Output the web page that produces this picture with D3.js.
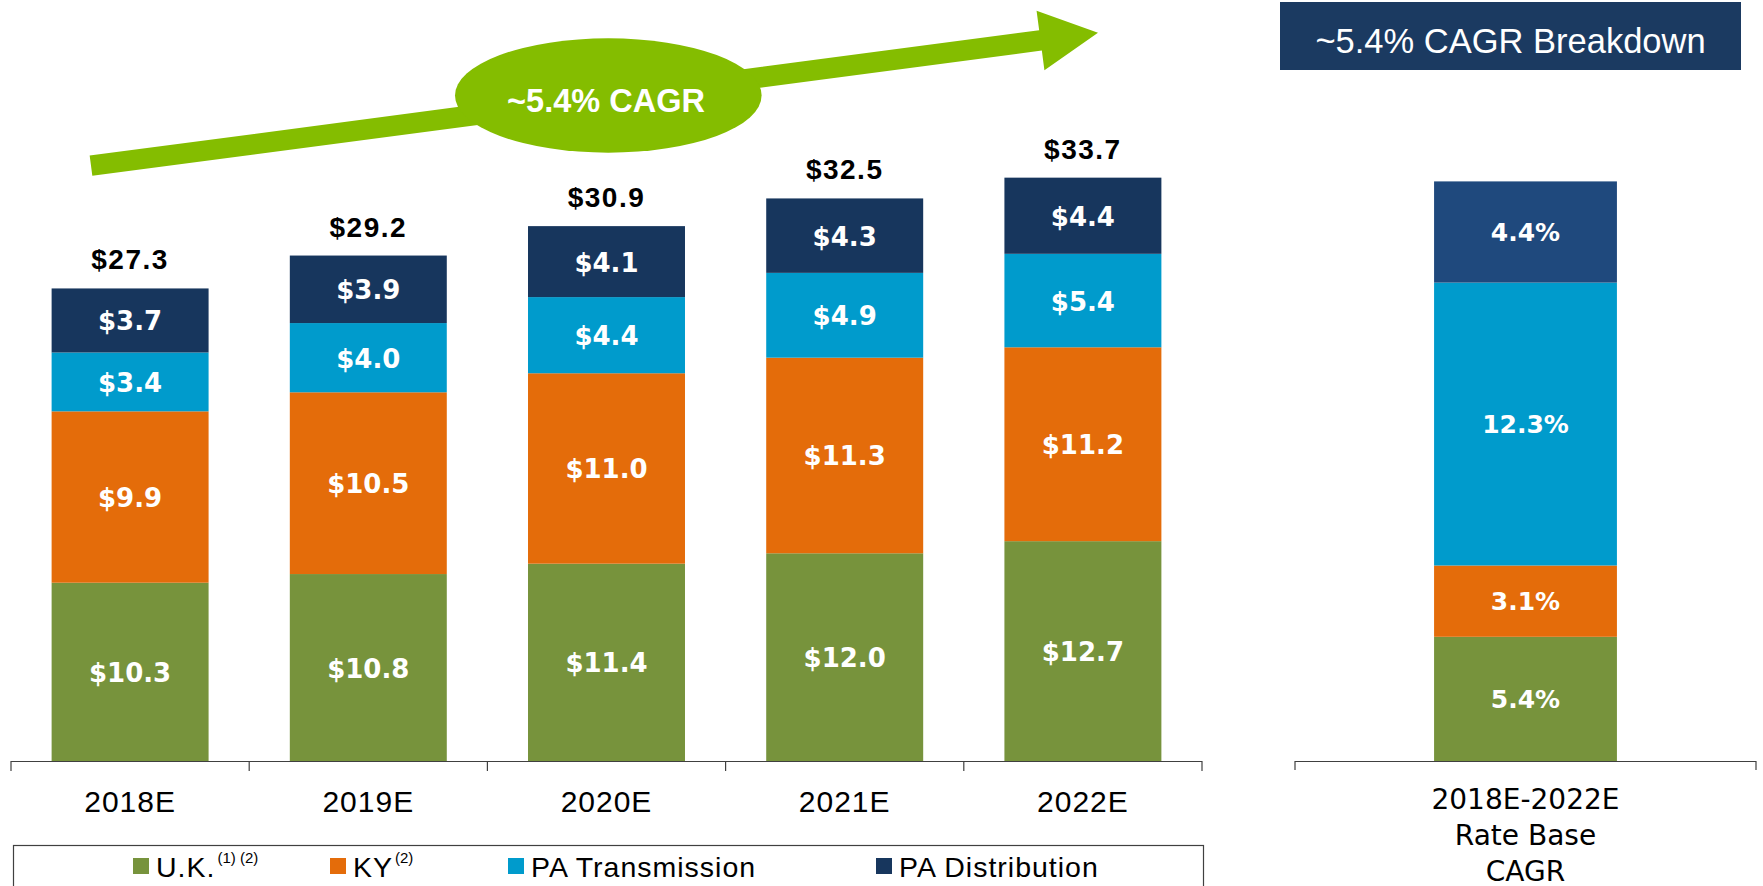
<!DOCTYPE html>
<html>
<head>
<meta charset="utf-8">
<script src="https://cdn.jsdelivr.net/npm/d3@7"></script>
<style>
  body { margin: 0; background: #fff; }
  svg { display: block; }
</style>
</head>
<body>
<svg id="chart" width="1763" height="886"></svg>
<script>
// data
var years = ["2018E", "2019E", "2020E", "2021E", "2022E"];
var uk = [10.3, 10.8, 11.4, 12.0, 12.7];
var ky = [9.9, 10.5, 11.0, 11.3, 11.2];
var paTrans = [3.4, 4.0, 4.4, 4.9, 5.4];
var paDist = [3.7, 3.9, 4.1, 4.3, 4.4];
var totals = [27.3, 29.2, 30.9, 32.5, 33.7];
var cagrCategory = ["2018E-2022E"];
var cagrValues = [5.4, 3.1, 12.3, 4.4];   // U.K., KY, PA Trans, PA Dist
var seriesNames = ["U.K.", "KY", "PA Transmission", "PA Distribution"];
var seriesSup = ["(1) (2)", "(2)", "", ""];
var colors = ["#77933c", "#e46c0a", "#009bcc", "#17365d"];
var cagrColors = ["#77933c", "#e46c0a", "#009bcc", "#1f497d"];

var svg = d3.select("#chart");
var baseY = 761;

// left panel scales
var x = d3.scaleBand()
    .domain(years)
    .range([11, 1202])
    .paddingInner(0.341)
    .paddingOuter(0.1705);

var y = d3.scaleLinear()
    .domain([0, 40])
    .range([baseY, baseY - 17.31 * 40]);

// stack
var rows = years.map(function(yr, i) {
  return { year: yr, "U.K.": uk[i], "KY": ky[i], "PA Transmission": paTrans[i], "PA Distribution": paDist[i] };
});
var stacked = d3.stack().keys(seriesNames)(rows);

var layers = svg.selectAll(".layer")
    .data(stacked)
  .enter().append("g")
    .attr("class", "layer")
    .style("fill", function(d, i) { return colors[i]; });

layers.selectAll("rect")
    .data(function(d) { return d; })
  .enter().append("rect")
    .attr("x", function(d) { return x(d.data.year); })
    .attr("width", x.bandwidth())
    .attr("y", function(d) { return y(d[1]); })
    .attr("height", function(d) { return y(d[0]) - y(d[1]); });

layers.selectAll("text")
    .data(function(d) { return d; })
  .enter().append("text")
    .attr("x", function(d) { return x(d.data.year) + x.bandwidth() / 2; })
    .attr("y", function(d) { return (y(d[0]) + y(d[1])) / 2 + 10; })
    .attr("text-anchor", "middle")
    .style("font-family", "DejaVu Sans")
    .style("font-weight", "bold")
    .style("font-size", "26px")
    .style("fill", "#fff")
    .text(function(d) { return "$" + (d[1] - d[0]).toFixed(1); });

// totals
svg.selectAll(".total")
    .data(totals)
  .enter().append("text")
    .attr("class", "total")
    .attr("x", function(d, i) { return x(years[i]) + x.bandwidth() / 2; })
    .attr("y", function(d) { return y(d) - 19; })
    .attr("text-anchor", "middle")
    .style("font-family", "Liberation Sans, Arial")
    .style("font-weight", "bold")
    .style("font-size", "28px")
    .style("letter-spacing", "1.5px")
    .style("fill", "#000")
    .text(function(d) { return "$" + d.toFixed(1); });

// left axis
var axisG = svg.append("g").attr("stroke", "#404040").attr("stroke-width", 1.2);
axisG.append("line")
    .attr("x1", x.range()[0]).attr("x2", x.range()[1])
    .attr("y1", baseY + 0.5).attr("y2", baseY + 0.5);
var bounds = years.map(function(d) { return x(d) - x.step() * x.paddingInner() / 2; });
bounds.push(x.range()[1]);
bounds[0] = x.range()[0];
axisG.selectAll(".tk")
    .data(bounds)
  .enter().append("line")
    .attr("x1", function(d) { return d; }).attr("x2", function(d) { return d; })
    .attr("y1", baseY).attr("y2", baseY + 10);

svg.selectAll(".cat")
    .data(years)
  .enter().append("text")
    .attr("x", function(d) { return x(d) + x.bandwidth() / 2; })
    .attr("y", 812)
    .attr("text-anchor", "middle")
    .style("font-family", "Liberation Sans, Arial")
    .style("font-size", "30px")
    .style("letter-spacing", "1px")
    .style("fill", "#000")
    .text(function(d) { return d; });

// right panel
var x2 = d3.scaleBand()
    .domain(cagrCategory)
    .range([1295, 1756])
    .paddingInner(0.432)
    .paddingOuter(0.432);

var y2 = d3.scaleLinear()
    .domain([0, 25.2])
    .range([baseY, baseY - 23.0 * 25.2]);

var cagrStack = [];
var acc = 0;
cagrValues.forEach(function(v, i) {
  cagrStack.push({ y0: acc, y1: acc + v, v: v, c: cagrColors[i] });
  acc += v;
});

svg.selectAll(".cagr")
    .data(cagrStack)
  .enter().append("rect")
    .attr("x", x2(cagrCategory[0]))
    .attr("width", x2.bandwidth())
    .attr("y", function(d) { return y2(d.y1); })
    .attr("height", function(d) { return y2(d.y0) - y2(d.y1); })
    .style("fill", function(d) { return d.c; });

svg.selectAll(".cagrLbl")
    .data(cagrStack)
  .enter().append("text")
    .attr("x", x2(cagrCategory[0]) + x2.bandwidth() / 2)
    .attr("y", function(d) { return (y2(d.y0) + y2(d.y1)) / 2 + 9; })
    .attr("text-anchor", "middle")
    .style("font-family", "DejaVu Sans")
    .style("font-weight", "bold")
    .style("font-size", "25px")
    .style("fill", "#fff")
    .text(function(d) { return d.v.toFixed(1) + "%"; });

var axis2 = svg.append("g").attr("stroke", "#404040").attr("stroke-width", 1.2);
axis2.append("line")
    .attr("x1", x2.range()[0]).attr("x2", x2.range()[1])
    .attr("y1", baseY + 0.5).attr("y2", baseY + 0.5);
axis2.selectAll(".tk")
    .data(x2.range())
  .enter().append("line")
    .attr("x1", function(d) { return d; }).attr("x2", function(d) { return d; })
    .attr("y1", baseY).attr("y2", baseY + 9);

var catLines = [cagrCategory[0], "Rate Base", "CAGR"];
svg.append("text")
    .attr("text-anchor", "middle")
    .style("font-family", "DejaVu Sans")
    .style("font-size", "28px")
    .style("fill", "#000")
  .selectAll("tspan")
    .data(catLines)
  .enter().append("tspan")
    .attr("x", x2(cagrCategory[0]) + x2.bandwidth() / 2)
    .attr("y", function(d, i) { return 809 + i * 36; })
    .text(function(d) { return d; });

// title box
svg.append("rect")
    .attr("x", 1280).attr("y", 2)
    .attr("width", 461).attr("height", 68)
    .style("fill", "#1b3a61");
svg.append("text")
    .attr("x", 1510.5).attr("y", 53)
    .attr("text-anchor", "middle")
    .style("font-family", "Liberation Sans, Arial")
    .style("font-size", "34.5px")
    .style("fill", "#fff")
    .text("~5.4% CAGR Breakdown");

// growth arrow
var tail = [91, 165.7], tip = [1098, 32.8];
var dx = tip[0] - tail[0], dy = tip[1] - tail[1];
var len = Math.sqrt(dx * dx + dy * dy);
var ux = dx / len, uy = dy / len, nx = -uy, ny = ux;
var hw = 10.2, headLen = 58, headHw = 30;
var hb = [tip[0] - ux * headLen, tip[1] - uy * headLen];
var pts = [
  [tail[0] + nx * hw, tail[1] + ny * hw],
  [hb[0] + nx * hw, hb[1] + ny * hw],
  [hb[0] + nx * headHw, hb[1] + ny * headHw],
  tip,
  [hb[0] - nx * headHw, hb[1] - ny * headHw],
  [hb[0] - nx * hw, hb[1] - ny * hw],
  [tail[0] - nx * hw, tail[1] - ny * hw]
];
svg.append("polygon")
    .attr("points", pts.map(function(p) { return p.join(","); }).join(" "))
    .style("fill", "#84bd00");

svg.append("ellipse")
    .attr("cx", 608.3).attr("cy", 95.5)
    .attr("rx", 153.3).attr("ry", 57.2)
    .style("fill", "#84bd00");
svg.append("text")
    .attr("x", 606).attr("y", 111.5)
    .attr("text-anchor", "middle")
    .style("font-family", "Liberation Sans, Arial")
    .style("font-weight", "bold")
    .style("font-size", "32.5px")
    .style("fill", "#fff")
    .text("~5.4% CAGR");

// legend
svg.append("rect")
    .attr("x", 13.5).attr("y", 845.5)
    .attr("width", 1190).attr("height", 60)
    .style("fill", "none")
    .style("stroke", "#404040")
    .style("stroke-width", 1.2);

var legendX = [133, 330, 508, 876];
var leg = svg.selectAll(".leg")
    .data(seriesNames)
  .enter().append("g")
    .attr("transform", function(d, i) { return "translate(" + legendX[i] + ",0)"; });
leg.append("rect")
    .attr("x", 0).attr("y", 858)
    .attr("width", 16).attr("height", 16)
    .style("fill", function(d, i) { return colors[i]; });
var lt = leg.append("text")
    .attr("x", 23).attr("y", 877)
    .style("font-family", "Liberation Sans, Arial")
    .style("font-size", "28.5px")
    .style("letter-spacing", "1px")
    .style("fill", "#000");
lt.append("tspan").text(function(d) { return d; });
lt.append("tspan")
    .attr("dx", 2)
    .attr("dy", -14)
    .style("font-size", "15px")
    .style("letter-spacing", "0px")
    .text(function(d, i) { return seriesSup[i]; });
</script>
</body>
</html>
